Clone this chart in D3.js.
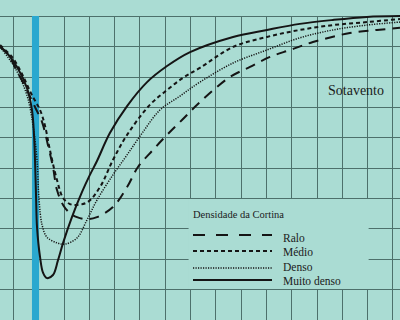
<!DOCTYPE html>
<html>
<head>
<meta charset="utf-8">
<script src="https://cdn.jsdelivr.net/npm/d3@7"></script>
<style>
  html, body { margin: 0; padding: 0; background: #aadcd3; }
  svg { display: block; }
  text { font-family: "Liberation Serif", "DejaVu Serif", serif; fill: #1b1b1b; }
</style>
</head>
<body>
<div id="chart"></div>
<script>
// distance (grid cells) vs. wind speed (% of open field)
const ralo = [
  [-0.51, 89.8], [-0.24, 87.8], [0.20, 81.2], [0.59, 74.9], [0.87, 70.0], [1.15, 65.0],
  [1.38, 57.5], [1.58, 50.2], [1.74, 42.6], [1.98, 37.7], [2.25, 35.0], [2.53, 33.7],
  [2.92, 33.0], [3.32, 33.7], [3.95, 37.0], [4.51, 43.6], [4.94, 50.2], [5.53, 55.8],
  [6.09, 60.8], [6.68, 65.7], [7.39, 71.6], [8.58, 79.9], [9.37, 83.2], [10.16, 86.5],
  [10.95, 88.8], [11.86, 91.4], [13.32, 94.4], [14.39, 95.4], [15.30, 96.1]
];
const medio = [
  [-0.51, 90.4], [-0.04, 86.5], [0.28, 82.2], [0.47, 78.9], [0.75, 73.9], [1.07, 69.0],
  [1.26, 64.0], [1.46, 55.8], [1.74, 45.9], [1.98, 40.0], [2.25, 38.0], [2.53, 37.7],
  [2.96, 38.7], [3.44, 43.6], [3.95, 52.5], [4.51, 60.8], [5.41, 70.7], [6.09, 75.6],
  [6.72, 79.6], [7.39, 82.9], [8.70, 89.8], [10.04, 93.1], [11.34, 95.4], [12.65, 97.0],
  [13.99, 98.0], [15.30, 99.0]
];
const denso = [
  [-0.51, 89.8], [0.08, 82.9], [0.55, 73.9], [0.79, 64.0], [0.95, 52.5], [1.03, 39.3],
  [1.15, 31.1], [1.34, 27.1], [1.74, 25.2], [2.06, 24.8], [2.53, 26.8], [2.92, 32.7],
  [3.32, 39.3], [3.95, 47.6], [4.51, 54.2], [5.14, 61.8], [5.81, 69.0], [6.60, 73.6],
  [7.39, 78.2], [8.70, 84.5], [10.04, 88.8], [11.34, 92.8], [12.65, 95.4], [13.99, 97.0],
  [15.30, 98.0]
];
const muitoDenso = [
  [-0.51, 89.8], [-0.24, 87.8], [0.16, 83.2], [0.55, 76.3], [0.75, 69.0], [0.83, 60.8],
  [0.87, 52.5], [0.91, 41.0], [0.95, 30.4], [1.07, 20.5], [1.19, 15.3], [1.34, 13.6],
  [1.58, 14.6], [1.78, 19.5], [1.98, 25.2], [2.33, 33.7], [2.73, 42.0], [3.04, 47.6],
  [3.32, 52.2], [3.83, 61.4], [4.51, 70.3], [5.30, 78.2], [6.09, 83.5], [7.00, 88.1],
  [8.70, 93.1], [10.04, 95.4], [11.34, 97.4], [12.65, 98.7], [13.99, 99.7], [15.30, 100]
];

const seriesNames = ["Ralo", "Médio", "Denso", "Muito denso"];
const xGridTicks = d3.range(0, 16);
const yGridTicks = d3.range(10, 101, 10);
const windbreak = [0.75, 1.03];   // the curtain itself
const legendCells = [7, 14, 10, 40]; // x from, x to, y from, y to (grid units)

const width = 400, height = 320;

const svg = d3.select("#chart").append("svg")
    .attr("width", width)
    .attr("height", height);

const x = d3.scaleLinear().domain([-0.514, 15.3]).range([0, width]);
const y = d3.scaleLinear().domain([0, 100]).range([319.3, 16]);

svg.append("rect")
    .attr("width", width)
    .attr("height", height)
    .attr("fill", "#aadcd3");

// grid
svg.append("g")
    .selectAll("line")
    .data(xGridTicks)
    .enter().append("line")
    .attr("x1", d => Math.round(x(d)) + 0.5)
    .attr("x2", d => Math.round(x(d)) + 0.5)
    .attr("y1", y(100))
    .attr("y2", height)
    .attr("stroke", "#4d706b")
    .attr("stroke-width", 1);

svg.append("g")
    .selectAll("line")
    .data(yGridTicks)
    .enter().append("line")
    .attr("x1", 0)
    .attr("x2", width)
    .attr("y1", d => Math.round(y(d)) + 0.5)
    .attr("y2", d => Math.round(y(d)) + 0.5)
    .attr("stroke", "#4d706b")
    .attr("stroke-width", 1);

// windbreak band
svg.append("rect")
    .attr("x", x(windbreak[0]))
    .attr("y", y(100))
    .attr("width", x(windbreak[1]) - x(windbreak[0]))
    .attr("height", height - y(100))
    .attr("fill", "#2aa8cf");

// curves
const line = d3.line()
    .x(d => x(d[0]))
    .y(d => y(d[1]))
    .curve(d3.curveCatmullRom.alpha(0.5));

const styles = [
    {data: ralo, dash: "10,7", w: 2},
    {data: medio, dash: "4,3", w: 2},
    {data: denso, dash: "1.2,1.3", w: 1.5},
    {data: muitoDenso, dash: null, w: 2}
];

styles.forEach(s => {
    svg.append("path")
        .attr("d", line(s.data))
        .attr("fill", "none")
        .attr("stroke", "#151515")
        .attr("stroke-width", s.w)
        .attr("stroke-dasharray", s.dash);
});

// legend box hides the grid behind it
svg.append("rect")
    .attr("x", x(legendCells[0]) - 1.5)
    .attr("y", Math.round(y(legendCells[3])) + 1)
    .attr("width", x(legendCells[1]) - x(legendCells[0]) + 3)
    .attr("height", Math.round(y(legendCells[2])) - Math.round(y(legendCells[3])) - 1)
    .attr("fill", "#aadcd3");

svg.append("text")
    .attr("x", 193)
    .attr("y", 218)
    .attr("font-size", 10.5)
    .text("Densidade da Cortina");

const legendLineY = [235, 251, 268, 280];
const legendTextY = [242, 256, 271, 285];

styles.forEach((s, i) => {
    svg.append("line")
        .attr("x1", 193)
        .attr("x2", 272)
        .attr("y1", legendLineY[i])
        .attr("y2", legendLineY[i])
        .attr("stroke", "#151515")
        .attr("stroke-width", s.w)
        .attr("stroke-dasharray", i === 0 ? "12,11" : s.dash);
    svg.append("text")
        .attr("x", 283)
        .attr("y", legendTextY[i])
        .attr("font-size", 11.5)
        .text(seriesNames[i]);
});

svg.append("text")
    .attr("x", 328)
    .attr("y", 95)
    .attr("font-size", 14)
    .text("Sotavento");
</script>
</body>
</html>
